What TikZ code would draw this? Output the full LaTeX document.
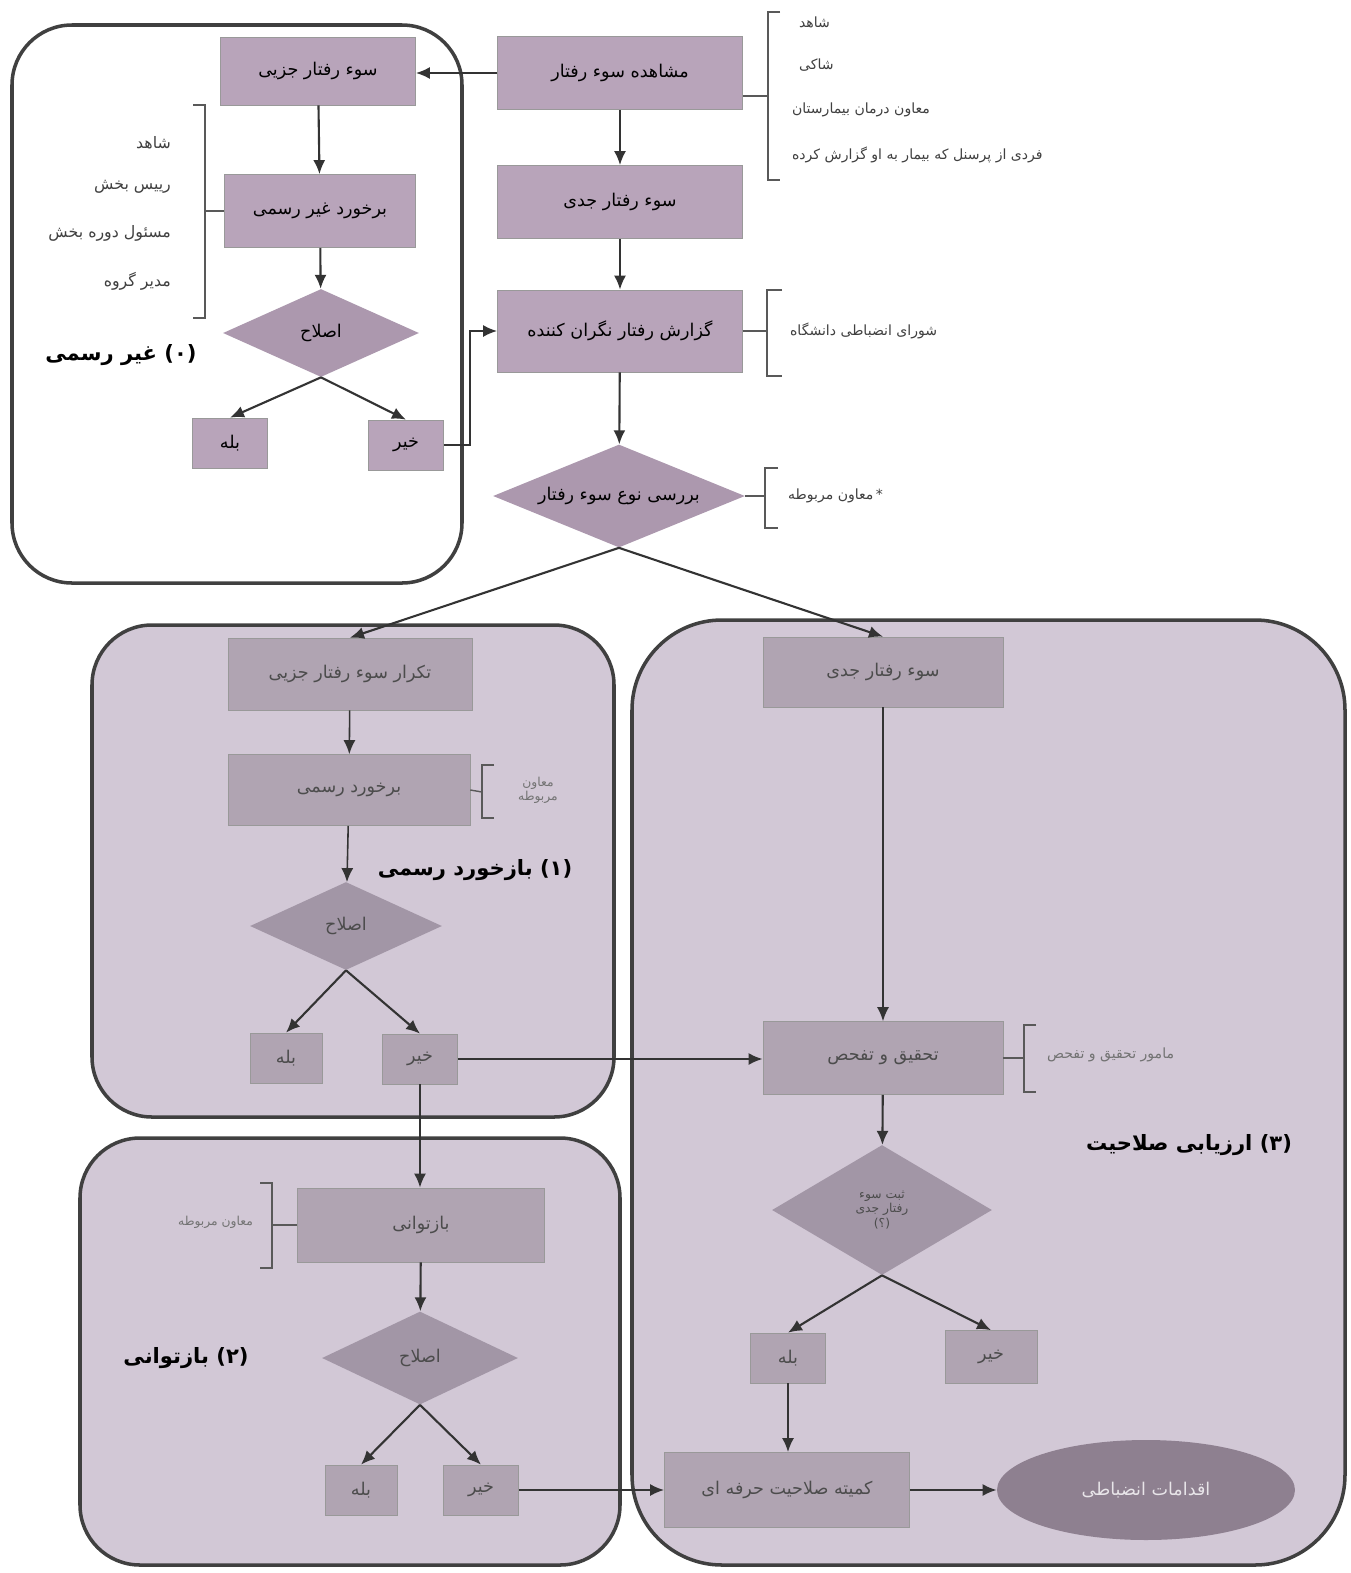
\documentclass[tikz,border=0pt]{standalone}
\usepackage{fontspec}
\usepackage{tikz}
\usetikzlibrary{arrows.meta,positioning,shapes.geometric}

\newfontfamily\farsi[Script=Arabic]{DejaVu Sans}
\TeXXeTstate=1
\newcommand{\fa}[1]{\beginR#1\endR}

\definecolor{boxtop}{RGB}{184,164,186}
\definecolor{boxlow}{RGB}{176,164,178}
\definecolor{diamtop}{RGB}{172,152,174}
\definecolor{diamlow}{RGB}{162,150,166}
\definecolor{regfill}{RGB}{210,200,214}
\definecolor{ovalfill}{RGB}{142,128,144}

\begin{document}
\begin{tikzpicture}[
    x=0.02cm, y=-0.02cm,
    % --- Node styles ---
    box/.style={draw=black!40, fill=boxtop, minimum width=4.9cm, minimum height=1.46cm,
                inner sep=2pt, font=\farsi\normalsize},
    lowbox/.style={box, fill=boxlow, text=black!70},
    decision/.style={diamond, aspect=2.4, fill=diamtop, inner sep=0pt, font=\farsi\normalsize},
    lowdecision/.style={decision, fill=diamlow, text=black!70},
    answer/.style={box, minimum width=1.5cm, minimum height=1cm},
    lowanswer/.style={lowbox, minimum width=1.5cm, minimum height=1cm},
    outcome/.style={ellipse, fill=ovalfill, inner sep=0pt, text=white!80!ovalfill, font=\farsi\normalsize},
    note/.style={font=\farsi\footnotesize, text=black!75, inner sep=1pt},
    tag/.style={font=\farsi\bfseries\large},
    % --- Edge styles ---
    flow/.style={-{Latex[length=2.8mm,width=2.4mm]}, line width=1.2pt, draw=black!80},
    bracket/.style={line width=0.8pt, draw=black!65},
    region/.style={draw=black!75, line width=2pt, rounded corners=1.2cm},
]
\useasboundingbox (0,0) rectangle (1351,1573);

% === Regions (drawn first, behind everything) ===
\draw[region, fill=white] (12,25) rectangle (462,583);
\draw[region, fill=regfill] (92,625) rectangle (614,1117);
\draw[region, fill=regfill] (80,1138) rectangle (620,1565);
\draw[region, fill=regfill, rounded corners=1.8cm] (632,620) rectangle (1345,1565);

% === Main column ===
\node[box] (obs) at (620,73) {\fa{مشاهده سوء رفتار}};
\node[box] (serious) at (620,202) {\fa{سوء رفتار جدی}};
\node[box, minimum height=1.64cm] (report) at (620,331) {\fa{گزارش رفتار نگران کننده}};
\node[decision, minimum width=5.04cm, minimum height=2.06cm] (check) at (619,496) {\fa{بررسی نوع سوء رفتار}};

% === (0) informal ===
\node[box, minimum width=3.9cm, minimum height=1.36cm] (minor) at (318,71) {\fa{سوء رفتار جزیی}};
\node[box, minimum width=3.82cm] (informal) at (320,211) {\fa{برخورد غیر رسمی}};
\node[decision, minimum width=3.92cm, minimum height=1.76cm] (fix0) at (321,333) {\fa{اصلاح}};
\node[answer] (yes0) at (230,443) {\fa{بله}};
\node[answer] (no0) at (406,445) {\fa{خیر}};

% === (1) formal feedback ===
\node[lowbox, minimum width=4.88cm, minimum height=1.44cm] (rep1) at (350,674) {\fa{تکرار سوء رفتار جزیی}};
\node[lowbox, minimum width=4.84cm, minimum height=1.42cm] (formal) at (349,790) {\fa{برخورد رسمی}};
\node[lowdecision, minimum width=3.84cm, minimum height=1.76cm] (fix1) at (346,926) {\fa{اصلاح}};
\node[lowanswer, minimum width=1.44cm] (yes1) at (286,1058) {\fa{بله}};
\node[lowanswer] (no1) at (420,1059) {\fa{خیر}};

% === (2) rehabilitation ===
\node[lowbox, minimum width=4.94cm, minimum height=1.48cm] (rehab) at (421,1225) {\fa{بازتوانی}};
\node[lowdecision, minimum width=3.92cm, minimum height=1.86cm] (fix2) at (420,1358) {\fa{اصلاح}};
\node[lowanswer, minimum width=1.44cm] (yes2) at (361,1490) {\fa{بله}};
\node[lowanswer] (no2) at (481,1490) {\fa{خیر}};

% === (3) competence assessment ===
\node[lowbox, minimum width=4.8cm, minimum height=1.4cm] (serious3) at (883,672) {\fa{سوء رفتار جدی}};
\node[lowbox, minimum width=4.8cm] (invest) at (883,1058) {\fa{تحقیق و تفحص}};
\node[lowdecision, aspect=1.7, minimum width=4.4cm, minimum height=2.6cm, align=center, font=\farsi\scriptsize]
     (record) at (882,1210) {\fa{ثبت سوء}\\\fa{رفتار جدی}\\(؟)};
\node[lowanswer] (yes3) at (788,1358) {\fa{بله}};
\node[lowanswer, minimum width=1.84cm, minimum height=1.06cm] (no3) at (991,1357) {\fa{خیر}};
\node[lowbox, minimum width=4.9cm, minimum height=1.5cm] (committee) at (787,1490) {\fa{کمیته صلاحیت حرفه ای}};
\node[outcome, minimum width=5.96cm, minimum height=2cm] (result) at (1146,1490) {\fa{اقدامات انضباطی}};

% --- Connectors ---
\draw[flow] (obs.west) -- (minor.east |- obs.west);
\draw[flow] (obs) -- (serious);
\draw[flow] (serious) -- (report);
\draw[flow] (report) -- (check);
\draw[flow] (minor) -- (informal);
\draw[flow] (informal) -- (fix0);
\draw[flow] (fix0.south) -- (yes0.north);
\draw[flow] (fix0.south) -- (no0.north);
\draw[flow] (no0.east) -- ++(26,0) |- (report.west);
\draw[flow] (check.south) -- (rep1.north);
\draw[flow] (check.south) -- (serious3.north);

\draw[flow, line width=0.9pt] (rep1) -- (formal);
\draw[flow, line width=0.9pt] (formal) -- (fix1);
\draw[flow] (fix1.south) -- (yes1.north);
\draw[flow] (fix1.south) -- (no1.north);
\draw[flow] (no1.east) -- (invest.west |- no1.east);
\draw[flow] (no1.south) -- (rehab.north -| no1.south);

\draw[flow] (rehab) -- (fix2);
\draw[flow] (fix2.south) -- (yes2.north);
\draw[flow] (fix2.south) -- (no2.north);
\draw[flow] (no2.east) -- (committee.west |- no2.east);

\draw[flow, line width=0.9pt] (serious3) -- (invest);
\draw[flow] (invest) -- (record);
\draw[flow] (record.south) -- (yes3.north);
\draw[flow] (record.south) -- (no3.north);
\draw[flow] (yes3) -- (committee.north -| yes3.south);
\draw[flow] (committee) -- (result);

% --- Brackets and who is involved ---
\draw[bracket] (obs.east |- 0,96) -- (768,96);
\draw[bracket] (780,12) -- (768,12) -- (768,180) -- (780,180);
\node[note, anchor=west] (obs1) at (797,22) {\fa{شاهد}};
\node[note, anchor=west] (obs2) at (797,65) {\fa{شاکی}};
\node[note, anchor=west] (obs3) at (790,110) {\fa{معاون درمان بیمارستان}};
\node[note, anchor=west] (obs4) at (790,155) {\fa{فردی از پرسنل که بیمار به او گزارش کرده}};

\draw[bracket] (informal.west) -- (205,211);
\draw[bracket] (193,105) -- (205,105) -- (205,318) -- (193,318);
\node[note, font=\farsi\small, anchor=east] (inf1) at (173,143) {\fa{شاهد}};
\node[note, font=\farsi\small, anchor=east] (inf2) at (173,187) {\fa{رییس بخش}};
\node[note, font=\farsi\small, anchor=east] (inf3) at (173,233) {\fa{مسئول دوره بخش}};
\node[note, font=\farsi\small, anchor=east] (inf4) at (173,281) {\fa{مدیر گروه}};

\draw[bracket] (report.east) -- (767,331);
\draw[bracket] (782,290) -- (767,290) -- (767,376) -- (782,376);
\node[note, anchor=west] (rep) at (788,331) {\fa{شورای انضباطی دانشگاه}};

\draw[bracket] (check.east) -- (765,496);
\draw[bracket] (778,468) -- (765,468) -- (765,528) -- (778,528);
\node[note, anchor=west] (chk) at (786,496) {\fa{معاون مربوطه}\,*};

\draw[bracket] (formal.east) -- (482,792);
\draw[bracket] (494,765) -- (482,765) -- (482,818) -- (494,818);
\node[note, font=\farsi\scriptsize, align=center, text=black!55] (frm) at (538,790) {\fa{معاون}\\\fa{مربوطه}};

\draw[bracket] (rehab.west) -- (272,1225);
\draw[bracket] (260,1183) -- (272,1183) -- (272,1268) -- (260,1268);
\node[note, font=\farsi\scriptsize, anchor=east, text=black!55] (reh) at (255,1222) {\fa{معاون مربوطه}};

\draw[bracket] (invest.east) -- (1024,1058);
\draw[bracket] (1036,1025) -- (1024,1025) -- (1024,1092) -- (1036,1092);
\node[note, anchor=west, text=black!55] (inv) at (1045,1055) {\fa{مامور تحقیق و تفحص}};

% --- Region labels ---
\node[tag] (tag0) at (121,355) {\fa{غیر رسمی}~(۰)};
\node[tag] (tag1) at (475,870) {\fa{بازخورد رسمی}~(۱)};
\node[tag] (tag2) at (186,1358) {\fa{بازتوانی}~(۲)};
\node[tag] (tag3) at (1189,1145) {\fa{ارزیابی صلاحیت}~(۳)};

\end{tikzpicture}
\end{document}
